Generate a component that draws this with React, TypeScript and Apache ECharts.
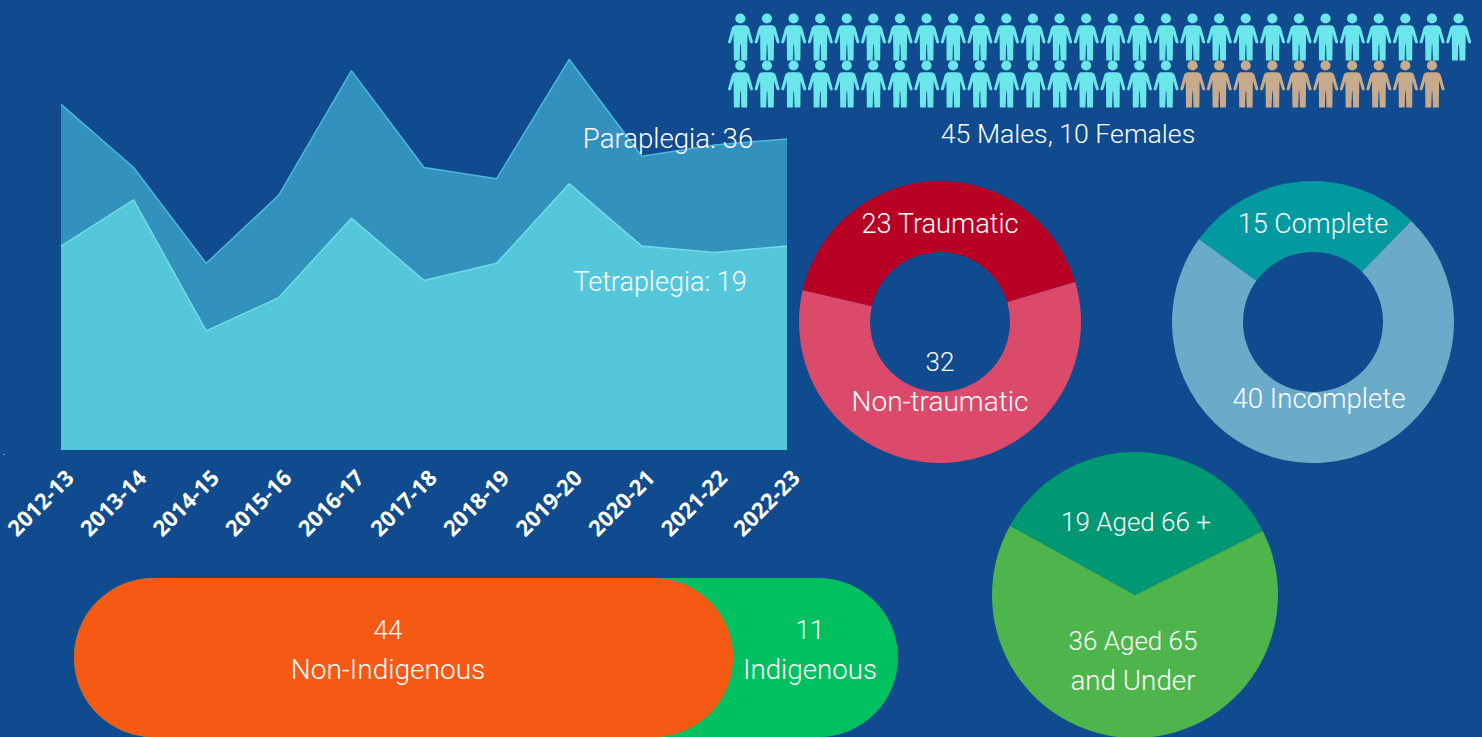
import React, { useEffect, useRef } from "react";
import * as echarts from "echarts";

const years = ["2012-13","2013-14","2014-15","2015-16","2016-17","2017-18","2018-19","2019-20","2020-21","2021-22","2022-23"];
const paraplegia = [40,32.7,21.6,29.5,43.9,32.7,31.4,45.2,34,35.3,36];
const tetraplegia = [19,23.3,11.1,14.2,21.6,15.8,17.4,24.8,19,18.4,19];
const males = 45;
const females = 10;
const perRow = 28;
const injury = [{ name: "Traumatic", value: 23 }, { name: "Non-traumatic", value: 32 }];
const completeness = [{ name: "Complete", value: 15 }, { name: "Incomplete", value: 40 }];
const age = [{ name: "Aged 66 +", value: 19 }, { name: "Aged 65 and Under", value: 36 }];
const nonIndigenous = 44;
const indigenous = 11;

const BG = "#0F4B8E";
const FONT = "Roboto";
const PERSON = "path://M21 15a15 15 0 1 0 30 0a15 15 0 1 0 -30 0ZM24 35H49Q59 35 62 44L73 84Q74 89 69 89Q65 89 64 85L57 60L56 140H39L37.5 92H35.5L34 140H17L16 60L9 85Q8 89 4 89Q-1 89 0 84L11 44Q14 35 24 35Z";

const cell = (i: number) => [i % perRow, Math.floor(i / perRow)];
const maleCells = Array.from({ length: males }, (_, i) => cell(i));
const femaleCells = Array.from({ length: females }, (_, i) => cell(i + males));

const txt = (text: string, x: number, y: number, size = 27) => ({
  type: "text", x, y: y + 0.6, z: 100,
  style: { text, fill: "#fff", font: `300 ${size}px ${FONT}`, align: "center", verticalAlign: "middle" },
});

const donut = (data: any[], center: number[], radius: any, startAngle: number, colors: string[]) => ({
  type: "pie", data, center, radius, startAngle, silent: true, label: { show: false }, labelLine: { show: false },
  color: colors, itemStyle: { borderWidth: 0 },
});

export default function App() {
  const ref = useRef<HTMLDivElement>(null);
  useEffect(() => {
    document.body.style.margin = "0";
    document.body.style.background = BG;
    const chart = echarts.init(ref.current!, undefined, { renderer: "svg" });
    chart.setOption({
      animation: false,
      backgroundColor: BG,
      grid: [
        { left: 61, width: 726, top: 40, height: 410 },
        { left: 727.2, width: 744.8, top: 13.5, height: 94 },
        { left: 74, width: 824, top: 578, height: 164 },
        { left: 69, width: 726, top: 40, height: 410 },
      ],
      xAxis: [
        {
          type: "category", gridIndex: 0, data: years, boundaryGap: false,
          axisLine: { show: false }, axisTick: { show: false }, splitLine: { show: false }, axisLabel: { show: false },
        },
        { type: "value", gridIndex: 1, min: -0.5, max: perRow - 0.5, show: false },
        { type: "value", gridIndex: 2, min: 0, max: males + females, show: false },
        {
          type: "category", gridIndex: 3, data: years, boundaryGap: false,
          axisLine: { show: false }, axisTick: { show: false }, splitLine: { show: false },
          axisLabel: { color: "#fff", fontFamily: "Open Sans", fontWeight: 700, fontSize: 22, rotate: 45, interval: 0, margin: 23 },
        },
      ],
      yAxis: [
        { type: "value", gridIndex: 0, min: 0, max: 47.45, show: false },
        { type: "value", gridIndex: 0, min: 0, max: 38.2, show: false },
        { type: "value", gridIndex: 1, min: -0.5, max: 1.5, inverse: true, show: false },
        { type: "category", gridIndex: 2, data: ["Indigenous status"], show: false },
        { type: "value", gridIndex: 3, show: false },
      ],
      series: [
        {
          type: "line", name: "Paraplegia", xAxisIndex: 0, yAxisIndex: 0, data: paraplegia, symbol: "none", silent: true,
          lineStyle: { color: "#4CB8DC", width: 1.5 }, areaStyle: { color: "#3391BD", opacity: 1 },
        },
        {
          type: "line", name: "Tetraplegia", xAxisIndex: 0, yAxisIndex: 1, data: tetraplegia, symbol: "none", silent: true,
          lineStyle: { color: "#6FDDE6", width: 1.5 }, areaStyle: { color: "#55C7DA", opacity: 1 },
        },
        {
          type: "scatter", name: "Males", xAxisIndex: 1, yAxisIndex: 2, data: maleCells, symbol: PERSON, symbolSize: [25, 47], silent: true,
          itemStyle: { color: "#6BE6EB", opacity: 1 },
        },
        {
          type: "scatter", name: "Females", xAxisIndex: 1, yAxisIndex: 2, data: femaleCells, symbol: PERSON, symbolSize: [25, 47], silent: true,
          itemStyle: { color: "#C8AB8C", opacity: 1 },
        },
        donut(injury, [940, 322], [70, 141], 167, ["#B80024", "#DC4A6B"]),
        donut(completeness, [1313, 322], [70, 141], 144, ["#009AA0", "#69ABC9"]),
        donut(age, [1135, 595], [0, 143], 151, ["#009773", "#4DB54B"]),
        {
          type: "bar", name: "Indigenous", xAxisIndex: 2, yAxisIndex: 3, data: [nonIndigenous + indigenous], barWidth: "100%", barGap: "-100%", silent: true,
          itemStyle: { color: "#00C060", borderRadius: 82 },
        },
        {
          type: "bar", name: "Non-Indigenous", xAxisIndex: 2, yAxisIndex: 3, data: [nonIndigenous], barWidth: "100%", barGap: "-100%", silent: true,
          itemStyle: { color: "#F65914", borderRadius: 82 },
        },
      ],
      graphic: [
        txt("45 Males, 10 Females", 1068, 133, 26.7),
        txt("Paraplegia: 36", 668, 138, 27.6),
        txt("Tetraplegia: 19", 660, 281, 27),
        txt("23 Traumatic", 940, 223, 27.2),
        txt("32", 940, 361, 26),
        txt("Non-traumatic", 940, 401, 28),
        txt("15 Complete", 1313, 223, 26.9),
        txt("40 Incomplete", 1319, 398, 27.6),
        txt("19 Aged 66 +", 1136, 521, 26),
        txt("36 Aged 65", 1133, 640, 26),
        txt("and Under", 1133, 680, 27.8),
        txt("44", 388, 629, 26),
        txt("Non-Indigenous", 388, 669, 28),
        txt("11", 810, 629, 26),
        txt("Indigenous", 810, 669, 27.7),
        { type: "rect", shape: { x: 3, y: 454, width: 2, height: 1 }, style: { fill: "#6A8FB5" } },
      ],
    });
    return () => chart.dispose();
  }, []);
  return <div ref={ref} style={{ position: "absolute", left: 0, top: 0, width: 1482, height: 737, overflow: "hidden" }} />;
}
